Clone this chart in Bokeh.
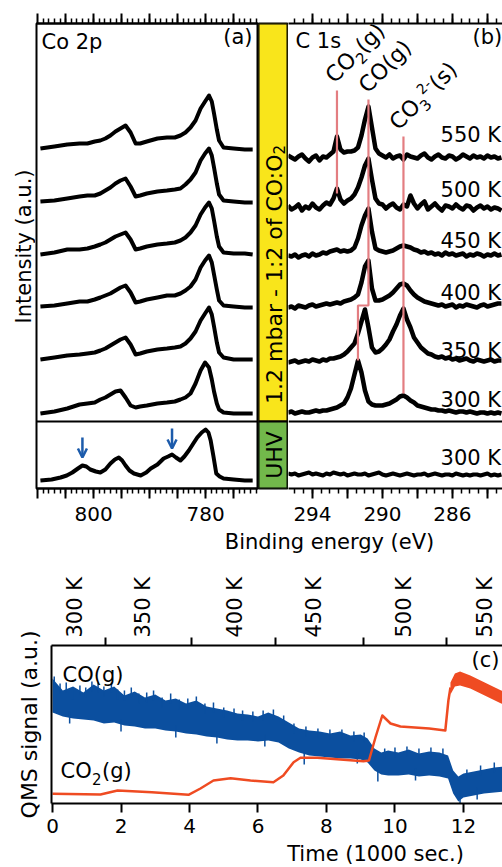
import math
from bokeh.plotting import figure
from bokeh.layouts import column, row
from bokeh.models import (Range1d, LinearAxis, FixedTicker, Label, Span, Arrow,
                          OpenHead, CustomJSTickFormatter)
from bokeh.embed import file_html
from bokeh.resources import INLINE

FONT = "DejaVu Sans"
BLACK = "black"
RED = "#e37d81"
BLUE = "#0b4f9f"
ORANGE = "#ef4b22"
ARROW_BLUE = "#1c5bab"
YELLOW = "#f9e51b"
GREEN = "#72b84b"

# ---------------- Panel (a): Co 2p ----------------
co2p_energy = [809.5, 807.0, 804.7, 802.5, 801.1, 799.8, 798.8, 797.9, 797.0, 796.1,
               795.2, 794.3, 793.4, 792.5, 791.7, 790.5, 788.6, 786.9, 785.5, 784.5,
               783.6, 782.7, 781.8, 780.9, 780.1, 779.4, 778.9, 778.5, 778.0, 777.6,
               776.8, 775.0, 773.0, 771.6]
co2p_550 = [1, 3, 5, 6, 6, 8, 9, 11, 14, 18, 21, 24, 17, 6, 6, 8, 11, 12, 12, 14,
            17, 22, 29, 41, 48, 54, 48, 36, 20, 9, 2, 1, 0, 0]
co2p_500 = [1, 2, 4, 6, 7, 7, 9, 12, 15, 19, 22, 24, 16, 6, 7, 9, 11, 12, 13, 14,
            18, 23, 30, 42, 49, 54, 47, 35, 19, 8, 2, 1, 0, 0]
co2p_450 = [0, 2, 5, 5, 6, 8, 10, 12, 15, 18, 20, 22, 15, 5, 6, 8, 10, 11, 12, 14,
            17, 22, 29, 40, 47, 52, 46, 34, 18, 8, 2, 1, 1, 0]
co2p_400 = [1, 2, 4, 6, 6, 8, 10, 12, 14, 17, 20, 22, 15, 5, 6, 8, 10, 12, 12, 14,
            17, 21, 28, 40, 47, 52, 45, 33, 18, 7, 2, 1, 0, 0]
co2p_350 = [0, 2, 4, 5, 6, 7, 9, 11, 14, 17, 20, 22, 15, 5, 6, 8, 10, 11, 12, 13,
            16, 21, 28, 39, 46, 52, 45, 33, 17, 7, 2, 0, 0, 0]
co2p_300 = [0, 2, 5, 9, 10, 11, 14, 16, 19, 22, 23, 16, 8, 6, 7, 8, 10, 11, 12, 14,
            16, 20, 30, 43, 51, 46, 34, 22, 10, 4, 1, 0, 0, 0]
co2p_spectra = [co2p_550, co2p_500, co2p_450, co2p_400, co2p_350, co2p_300]
co2p_offsets = [339, 286, 234, 181, 129, 75]

co2p_uhv_energy = [809.5, 807.5, 805.9, 804.8, 803.8, 802.8, 802.0, 801.3, 800.6, 799.6,
                   798.8, 797.9, 797.0, 796.2, 795.5, 794.9, 794.3, 793.6, 792.8, 791.6,
                   790.6, 789.8, 788.6, 787.5, 786.7, 786.0, 785.3, 784.5, 783.8, 783.0,
                   782.2, 781.5, 780.7, 780.0, 779.5, 779.1, 778.6, 778.1, 777.5, 776.8,
                   775.0, 773.0, 771.6]
co2p_uhv = [0, 1, 3, 5, 8, 12, 15, 14, 11, 9, 8, 11, 17, 21, 23, 20, 15, 10, 7, 5,
            8, 12, 16, 22, 24, 26, 23, 20, 24, 30, 37, 43, 48, 51, 48, 40, 24, 7, 4, 2,
            1, 0, 0]
co2p_uhv_offset = 8
co2p_arrow_energy = [802.0, 786.0]
co2p_arrow_top = [51, 60]
co2p_ticks = [770, 775, 780, 785, 790, 795, 800, 805, 810]
co2p_minor = list(range(771, 810))
co2p_labeled = [800, 780]

# ---------------- Panel (b): C 1s ----------------
c1s_energy = [round(295.4 - 0.2 * i, 1) for i in range(62)]
c1s_550 = [2, 0, -2, 1, 3, -1, -4, 0, 2, -3, 1, 0, 3, 6, 21, 8, 5, 6, 6, 7, 10,
           22, 38, 51, 30, 9, 4, 2, 0, 3, -1, 1, 2, -2, 3, 1, 0, -1, 2, 4, 0, -2,
           1, 3, 0, -1, 2, 1, -2, 0, 3, 1, -1, 2, 0, 1, -1, 2, 0, 1, -1, 0]
c1s_500 = [2, -2, 0, 3, -3, 1, -1, 4, 0, -2, 2, 5, 3, 9, 19, 8, 4, 7, 9, 13, 20,
           30, 42, 49, 28, 9, 4, 3, -1, 2, 4, 0, -2, 3, 1, 12, 4, -1, 3, 6, -2, 1,
           4, 0, -3, 2, 1, -1, 3, 0, -2, 2, 1, -3, 0, 2, -1, 1, -2, 0, -1, -3]
c1s_450 = [0, -1, 1, -2, 0, 1, -1, 2, 0, 1, 3, 2, 4, 5, 6, 4, 5, 4, 5, 8, 17,
           30, 40, 47, 24, 7, 5, 4, 3, 4, 5, 7, 9, 10, 9, 8, 6, 5, 3, 4, 2, 3,
           1, 2, 0, 3, 1, 2, 0, 1, 2, -1, 1, 0, 2, 1, -1, 1, 0, 2, 0, 1]
c1s_400 = [-1, 0, -2, 1, 0, -1, 1, 2, 0, 1, 2, 3, 2, 3, 4, 3, 5, 6, 7, 9, 12,
           24, 40, 46, 18, 6, 6, 7, 9, 11, 14, 18, 22, 23, 21, 16, 12, 9, 7, 5, 4, 3,
           2, 1, 2, 0, 1, 2, -1, 1, 0, 2, 1, 0, -1, 1, 2, 0, 1, 2, 3, 3]
c1s_350 = [-1, 0, 1, -1, 0, 1, 0, 2, 1, 0, 2, 1, 3, 3, 4, 5, 7, 10, 14, 18, 28,
           40, 52, 34, 14, 9, 10, 13, 17, 22, 30, 37, 46, 53, 42, 34, 24, 19, 14, 11, 8, 7,
           5, 4, 5, 3, 4, 2, 3, 1, 2, 3, 1, 0, 2, 1, 0, 1, 2, 0, 1, 1]
c1s_300 = [0, 1, -1, 0, 1, 0, 0, 1, 2, 1, 2, 2, 3, 4, 5, 7, 9, 15, 24, 38, 52,
           40, 22, 11, 8, 7, 7, 7, 8, 9, 11, 13, 16, 17, 15, 12, 10, 7, 6, 5, 4, 3,
           3, 2, 2, 1, 2, 1, 0, 1, 1, 0, 1, 0, -1, 0, 0, -1, 0, -1, 0, -1]
c1s_uhv = [1, 0, 1, -1, 0, 1, 2, 0, 1, 0, -1, 1, 0, 2, 1, 0, 1, -1, 0, 1, 0,
           0, 1, -1, 0, 1, 2, 0, -1, 0, 1, 0, -1, 0, 1, 0, -1, 0, 0, 1, -1, 0,
           1, 0, -1, 0, 0, -1, 1, 0, -1, 0, -1, 0, 0, -1, 0, 1, -1, 0, -1, 0]
c1s_spectra = [c1s_550, c1s_500, c1s_450, c1s_400, c1s_350, c1s_300]
c1s_offsets = [331, 281, 233, 182, 127, 76]
c1s_uhv_offset = 14
c1s_temps = ["550 K", "500 K", "450 K", "400 K", "350 K", "300 K", "300 K"]
c1s_label_y = [346, 291, 240, 188, 130, 81, 23]
peak_co2 = 292.6
peak_co = [290.8, 291.4]
peak_co3 = 288.8
c1s_ticks = [284, 286, 288, 290, 292, 294]
c1s_minor = [283.5 + 0.5 * k for k in range(24)]
c1s_labeled = [294, 290, 286]

# ---------------- Panel (c): QMS ----------------
t_co = [0, 0.3, 0.6, 0.9, 1.2, 1.5, 1.8, 2.1, 2.4, 2.7, 3.0, 3.3, 3.6, 3.9, 4.2, 4.5,
        4.8, 5.1, 5.4, 5.7, 6.0, 6.3, 6.6, 6.9, 7.2, 7.5, 7.8, 8.1, 8.4, 8.7, 9.0, 9.2,
        9.4, 9.6, 9.8, 10.1, 10.4, 10.7, 11.0, 11.3, 11.55, 11.7, 11.85, 12.0, 12.3,
        12.6, 12.9, 13.2]
co_upper = [125, 113, 117, 111, 119, 113, 117, 108, 112, 106, 109, 103, 105, 100, 103, 97,
            95, 93, 90, 89, 87, 91, 87, 81, 75, 73, 72, 70, 72, 68, 69, 65,
            55, 51, 53, 51, 54, 50, 52, 51, 48, 33, 27, 30, 32, 34, 36, 37]
co_lower = [91, 87, 85, 84, 83, 80, 81, 78, 77, 75, 75, 73, 72, 70, 69, 67,
            66, 64, 63, 63, 62, 63, 61, 55, 51, 48, 47, 46, 45, 45, 44, 41,
            33, 29, 28, 28, 29, 27, 28, 27, 25, 10, 2, 6, 8, 10, 11, 12]
co_spike_t = [0.05, 0.22, 0.4, 0.58, 0.8, 0.97, 1.15, 1.33, 1.5, 1.72,
              1.9, 2.1, 2.3, 2.52, 2.75, 2.95, 3.2, 3.45, 3.7, 3.95,
              4.2, 4.45, 4.7, 5.0, 5.3, 5.55, 5.85, 6.15, 6.45, 6.75,
              7.05, 7.4, 7.75, 8.1, 8.45, 8.8, 9.1, 9.7, 10.0, 10.35,
              10.7, 11.05, 11.4, 12.1, 12.5, 12.9]
co_spike_top = [127, 120, 121, 114, 118, 116, 122, 121, 117, 121,
                114, 113, 116, 110, 111, 113, 106, 110, 104, 105,
                107, 100, 101, 96, 95, 93, 92, 93, 94, 88,
                80, 77, 75, 74, 74, 72, 71, 55, 56, 57,
                55, 56, 55, 34, 38, 41]
co_dip_t = [0.5, 2.0, 3.6, 4.8, 6.2, 7.35, 8.9, 9.5, 10.6, 11.9, 12.4]
co_dip_bottom = [80, 72, 66, 60, 57, 39, 40, 22, 23, 0, 4]
t_co2 = [0, 1.4, 1.9, 2.9, 3.97, 4.32, 4.7, 5.2, 5.78, 6.45, 6.74, 7.04, 7.24, 7.73,
         9.08, 9.24, 9.43, 9.63, 9.87, 10.16, 11.0, 11.47, 11.56, 11.62]
co2_signal = [9.7, 9, 13, 11.3, 8.7, 15, 23, 25.3, 23, 21.3, 28, 41.3, 45.7, 45.7,
              42.3, 43, 66, 88, 80, 77, 75, 73, 103, 116]
t_co2_band = [11.62, 11.75, 11.9, 12.2, 12.5, 12.8, 13.1, 13.2]
co2_band_top = [121, 130, 132, 128, 123, 118, 113, 112]
co2_band_bottom = [109, 117, 118, 115, 110, 105, 100, 99]
temp_labels = ["300 K", "350 K", "400 K", "450 K", "500 K", "550 K"]
temp_label_t = [0.67, 2.63, 5.34, 7.64, 10.26, 12.64]
temp_step_t = [1.55, 4.06, 6.51, 9.08, 11.5]
time_ticks = [0, 2, 4, 6, 8, 10, 12]


# ---------------- helpers ----------------
def blank_formatter():
    return CustomJSTickFormatter(code="return '';")


def labeled_formatter(labeled):
    return CustomJSTickFormatter(args=dict(keep=labeled),
                                 code="return keep.includes(tick) ? String(tick) : '';")


def style_axis(ax, major_out=10, minor_out=5, size="20px", standoff=9, line=True):
    ax.axis_line_color = BLACK if line else None
    ax.axis_line_width = 2
    ax.major_tick_line_color = BLACK
    ax.major_tick_line_width = 2
    ax.minor_tick_line_color = BLACK
    ax.minor_tick_line_width = 1.5
    ax.major_tick_in = 0
    ax.major_tick_out = major_out
    ax.minor_tick_in = 0
    ax.minor_tick_out = minor_out
    ax.major_label_text_font = FONT
    ax.major_label_text_color = BLACK
    ax.major_label_text_font_size = size
    ax.major_label_standoff = standoff
    return ax


def add_label(p, text, x, y, size=21, angle=0.0, align="left", baseline="alphabetic",
              x_units="screen", y_units="screen", x_offset=0.0, y_offset=0.0, color=BLACK):
    # "alphabetic": (x, y) is the text baseline; drawn with a middle anchor shifted
    # by the cap-centre height along the text's own "up" direction.
    if baseline == "alphabetic":
        shift = 0.36 * size
        x_offset += -math.sin(angle) * shift
        y_offset += math.cos(angle) * shift
        baseline = "middle"
    p.add_layout(Label(text=text, x=x, y=y, x_units=x_units, y_units=y_units, angle=angle,
                       text_font=FONT, text_font_size=f"{size}px", text_align=align,
                       text_baseline=baseline, x_offset=x_offset, y_offset=y_offset,
                       text_color=color))


def base_fig(width, height, xr, yr, left, right, top, bottom):
    p = figure(width=width, height=height, x_range=xr, y_range=yr,
               output_backend="svg", toolbar_location=None,
               x_axis_location=None, y_axis_location=None,
               min_border_left=left, min_border_right=right,
               min_border_top=top, min_border_bottom=bottom)
    p.xgrid.grid_line_color = None
    p.ygrid.grid_line_color = None
    p.outline_line_color = None
    p.background_fill_color = "white"
    p.border_fill_color = "white"
    return p


Y_TOP = 465
SEP_Y = 67
ROW_H = 529
ROW_BOTTOM = ROW_H - 488

# ---------------- "Intensity" label column ----------------
pint = base_fig(35, ROW_H, Range1d(0, 1), Range1d(0, 1), 0, 0, 0, 0)
add_label(pint, "Intensity (a.u.)", 31, ROW_H - 287, size=21, angle=math.pi / 2,
          align="center")

# ---------------- Panel (a) ----------------
pa = base_fig(223, ROW_H, Range1d(810.2, 770.56), Range1d(0, Y_TOP), 1, 0, 23, ROW_BOTTOM)
pa.outline_line_color = BLACK
pa.outline_line_width = 2
ax = LinearAxis(ticker=FixedTicker(ticks=co2p_ticks, minor_ticks=co2p_minor),
                formatter=labeled_formatter(co2p_labeled))
pa.add_layout(style_axis(ax, standoff=8), "below")
ax = LinearAxis(ticker=FixedTicker(ticks=co2p_ticks, minor_ticks=co2p_minor),
                formatter=blank_formatter())
pa.add_layout(style_axis(ax, standoff=-26), "above")
pa.add_layout(Span(location=SEP_Y, dimension="width", line_color=BLACK, line_width=2))

for spec, off in zip(co2p_spectra, co2p_offsets):
    pa.line(co2p_energy, [h + off for h in spec], line_color=BLACK, line_width=4,
            line_join="round")
pa.line(co2p_uhv_energy, [h + co2p_uhv_offset for h in co2p_uhv], line_color=BLACK,
        line_width=4, line_join="round")
for e, top in zip(co2p_arrow_energy, co2p_arrow_top):
    pa.add_layout(Arrow(end=OpenHead(size=9, line_color=ARROW_BLUE, line_width=2.5),
                        x_start=e, y_start=top, x_end=e, y_end=top - 20,
                        line_color=ARROW_BLUE, line_width=2.5))
add_label(pa, "Co 2p", 5, 439)
add_label(pa, "(a)", 216, 444, align="right")

# ---------------- Band ----------------
pband = base_fig(30, ROW_H, Range1d(0, 1), Range1d(0, Y_TOP), 0, 1, 23, ROW_BOTTOM)
pband.outline_line_color = BLACK
pband.outline_line_width = 2
pband.quad(left=0, right=1, bottom=SEP_Y, top=Y_TOP, fill_color=YELLOW,
           line_color=BLACK, line_width=2)
pband.quad(left=0, right=1, bottom=0, top=SEP_Y, fill_color=GREEN,
           line_color=BLACK, line_width=2)
add_label(pband, "1.2 mbar - 1:2 of CO:O", 0.5, 334, size=22, angle=math.pi / 2,
          align="right", baseline="middle", x_units="data", y_units="data", x_offset=1)
add_label(pband, "2", 0.5, 334, size=15, angle=math.pi / 2, align="left",
          baseline="middle", x_units="data", y_units="data", x_offset=6)
add_label(pband, "UHV", 0.5, SEP_Y / 2, size=22, angle=math.pi / 2, align="center",
          baseline="middle", x_units="data", y_units="data", x_offset=1)

# ---------------- Panel (b) ----------------
pb = base_fig(214, ROW_H, Range1d(295.37, 283.14), Range1d(0, Y_TOP), 0, 0, 23, ROW_BOTTOM)
ax = LinearAxis(ticker=FixedTicker(ticks=c1s_ticks, minor_ticks=c1s_minor),
                formatter=labeled_formatter(c1s_labeled))
pb.add_layout(style_axis(ax, standoff=8), "below")
ax = LinearAxis(ticker=FixedTicker(ticks=c1s_ticks, minor_ticks=c1s_minor),
                formatter=blank_formatter())
pb.add_layout(style_axis(ax, standoff=-26), "above")
pb.add_layout(Span(location=SEP_Y, dimension="width", line_color=BLACK, line_width=2))

for spec, off in zip(c1s_spectra, c1s_offsets):
    pb.line(c1s_energy, [h + off for h in spec], line_color=BLACK, line_width=4.5,
            line_join="round")
pb.line(c1s_energy, [h + c1s_uhv_offset for h in c1s_uhv], line_color=BLACK,
        line_width=4, line_join="round")

pb.line([peak_co2, peak_co2], [398, 295], line_color=RED, line_width=2.2)
pb.line([peak_co[0], peak_co[0], peak_co[1], peak_co[1]], [389, 183, 183, 128],
        line_color=RED, line_width=2.2)
pb.line([peak_co3, peak_co3], [352, 95], line_color=RED, line_width=2.2)

for txt, ly in zip(c1s_temps, c1s_label_y):
    add_label(pb, txt, 286.68, ly, x_units="data", y_units="data")
add_label(pb, "C 1s", 7, 440)
add_label(pb, "(b)", 184, 444)

D = math.sqrt(0.5)


def rot45(p, x, y, pieces):
    for text, size, adv, perp in pieces:
        add_label(p, text, x, y, size=size, angle=math.pi / 4, x_units="data",
                  y_units="data", x_offset=D * adv - D * perp, y_offset=D * adv + D * perp)


rot45(pb, 292.72, 404, [("CO", 22, 0, 0), ("2", 15, 32.7, -5), ("(g)", 22, 42.2, 0)])
rot45(pb, 290.82, 394, [("CO(g)", 22, 0, 0)])
rot45(pb, 289.06, 357, [("CO", 22, 0, 0), ("3", 15, 32.7, -5),
                        ("2-", 14, 42.2, 9), ("(s)", 22, 56.2, 0)])

# ---------------- "Binding energy" row ----------------
pbind = base_fig(502, 556 - ROW_H, Range1d(0, 1), Range1d(0, 1), 0, 0, 0, 0)
add_label(pbind, "Binding energy (eV)", 278, 556 - 549, align="center")

# ---------------- Panel (c) ----------------
PC_BOTTOM = 842
pc = base_fig(502, PC_BOTTOM - 556, Range1d(-0.03, 13.14), Range1d(0, 158),
              51, 0, 645 - 556, PC_BOTTOM - 803)
ax = LinearAxis(ticker=FixedTicker(ticks=time_ticks, minor_ticks=[]))
pc.add_layout(style_axis(ax, major_out=9, standoff=6), "below")
ax = LinearAxis(ticker=FixedTicker(ticks=temp_step_t, minor_ticks=[]),
                formatter=blank_formatter())
pc.add_layout(style_axis(ax, major_out=8, standoff=-26), "above")
ax = LinearAxis(ticker=FixedTicker(ticks=temp_label_t, minor_ticks=[]),
                formatter=CustomJSTickFormatter(
                    args=dict(tpos=temp_label_t, tlab=temp_labels),
                    code="const i = tpos.indexOf(tick); return i >= 0 ? tlab[i] : '';"))
style_axis(ax, major_out=0, size="21px", standoff=0, line=False)
ax.major_tick_line_color = None
ax.major_label_orientation = "vertical"
pc.add_layout(ax, "above")
ax = LinearAxis(ticker=FixedTicker(ticks=[], minor_ticks=[]))
style_axis(ax, major_out=0, standoff=0)
ax.axis_label = "QMS signal (a.u.)"
ax.axis_label_text_font = FONT
ax.axis_label_text_font_size = "22px"
ax.axis_label_text_font_style = "normal"
ax.axis_label_text_color = BLACK
ax.axis_label_standoff = 10
pc.add_layout(ax, "left")

pc.varea(x=t_co, y1=co_lower, y2=co_upper, fill_color=BLUE)
pc.segment(x0=co_spike_t, y0=[v - 10 for v in co_spike_top], x1=co_spike_t,
           y1=co_spike_top, line_color=BLUE, line_width=1.5)
pc.segment(x0=co_dip_t, y0=co_dip_bottom, x1=co_dip_t, y1=[v + 12 for v in co_dip_bottom],
           line_color=BLUE, line_width=1.5)
pc.line(t_co2, co2_signal, line_color=ORANGE, line_width=2.5, line_join="round")
pc.varea(x=t_co2_band, y1=co2_band_bottom, y2=co2_band_top, fill_color=ORANGE)

add_label(pc, "(c)", 420, 136)
add_label(pc, "CO(g)", 11, 121)
add_label(pc, "CO", 9, 25)
add_label(pc, "2", 40.5, 19, size=15)
add_label(pc, "(g)", 50.5, 25)

# ---------------- "Time" row ----------------
ptime = base_fig(502, 867 - PC_BOTTOM, Range1d(0, 1), Range1d(0, 1), 0, 0, 0, 0)
add_label(ptime, "Time (1000 sec.)", 324, 867 - 861, align="center")

layout = column(row(pint, pa, pband, pb, spacing=0), pbind, pc, ptime, spacing=0)
open("out.html", "w").write(file_html(layout, INLINE))
